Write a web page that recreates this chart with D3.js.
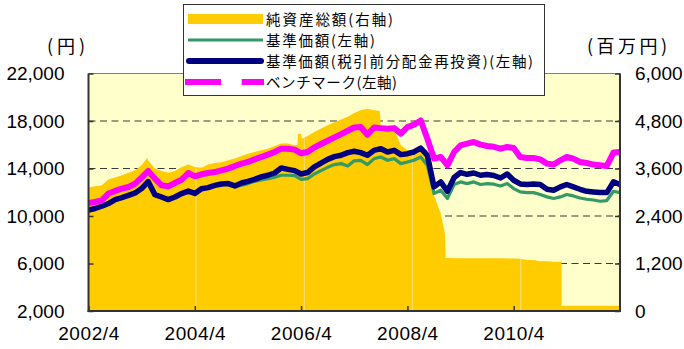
<!DOCTYPE html>
<html>
<head>
<meta charset="utf-8">
<script src="https://cdn.jsdelivr.net/npm/d3@7"></script>
<style>
  html, body { margin: 0; padding: 0; background: #fff; }
  svg { display: block; }
</style>
</head>
<body>
<svg id="chart" width="684" height="349"></svg>
<script>
// Sampling dates for the price series (every 1.5 months)
const dates = [
  "2002-04-01","2002-05-16","2002-07-01","2002-08-16","2002-10-01","2002-11-16","2003-01-01","2003-02-16",
  "2003-04-01","2003-05-16","2003-07-01","2003-08-16","2003-10-01","2003-11-16","2004-01-01","2004-02-16",
  "2004-04-01","2004-05-16","2004-07-01","2004-08-16","2004-10-01","2004-11-16","2005-01-01","2005-02-16",
  "2005-04-01","2005-05-16","2005-07-01","2005-08-16","2005-10-01","2005-11-16","2006-01-01","2006-02-16",
  "2006-04-01","2006-05-16","2006-07-01","2006-08-16","2006-10-01","2006-11-16","2007-01-01","2007-02-16",
  "2007-04-01","2007-05-16","2007-07-01","2007-08-16","2007-10-01","2007-11-16","2008-01-01","2008-02-16",
  "2008-04-01","2008-05-16","2008-07-01","2008-08-16","2008-10-01","2008-11-16","2009-01-01","2009-02-16",
  "2009-04-01","2009-05-16","2009-07-01","2009-08-16","2009-10-01","2009-11-16","2010-01-01","2010-02-16",
  "2010-04-01","2010-05-16","2010-07-01","2010-08-16","2010-10-01","2010-11-16","2011-01-01","2011-02-16",
  "2011-04-01","2011-05-16","2011-07-01","2011-08-16","2011-10-01","2011-11-16","2012-01-01","2012-02-16",
  "2012-04-01"
];

// 基準価額 (円)
const navBasic = [
  10500,10630,10820,11050,11380,11550,11740,11940,12310,12900,11800,11600,11380,11600,11890,12100,
  11900,12300,12390,12580,12700,12730,12500,12590,12730,12920,13030,13150,13260,13430,13430,13400,
  13090,13150,13540,13820,14100,14330,14410,14210,14650,14690,14330,14830,14970,14690,14830,14410,
  14550,14690,14970,14270,11890,12170,11470,12650,12870,12730,12870,12650,12730,12680,12530,12730,
  12310,12030,11970,11970,11810,11610,11470,11610,11810,11690,11520,11410,11350,11240,11300,12080,
  11970
];

// 基準価額（税引前分配金再投資）(円)
const navReinvested = [
  10500,10630,10820,11050,11380,11550,11740,11940,12310,12900,11800,11600,11380,11600,11890,12100,
  11900,12300,12390,12580,12700,12730,12530,12780,12920,13090,13290,13430,13620,14040,13930,13820,
  13540,13660,14130,14460,14770,15000,15110,15340,15450,15340,15110,15530,15670,15390,15530,15170,
  15250,15390,15720,15110,12450,12870,12080,13240,13660,13510,13620,13430,13490,13410,13200,13540,
  13010,12700,12650,12700,12650,12250,12170,12450,12650,12450,12250,12080,12030,11970,11970,12870,
  12650
];

// ベンチマーク (円)
const benchmark = [
  11100,11180,11320,11890,12110,12310,12440,12730,13230,13790,13150,12580,12500,12780,13060,13620,
  13340,13510,13620,13700,13850,13990,14210,14410,14550,14770,14970,15170,15390,15670,15670,15590,
  15280,15390,15780,16060,16340,16620,16900,17180,17450,17490,16850,17460,17400,17350,17400,16930,
  17490,17690,18050,16510,14830,14970,14270,15390,15950,16090,16230,16010,15890,15830,15670,15810,
  15720,14970,14880,14880,14770,14410,14330,14690,14970,14830,14550,14460,14330,14270,14210,15340,
  15390
];

// 純資産総額 (百万円)
const assetDates = [
  "2002-04-01","2002-05-16","2002-07-01","2002-08-16","2002-10-01","2002-11-16","2003-01-01","2003-02-16",
  "2003-04-01","2003-05-10","2003-05-16","2003-07-01","2003-08-16","2003-10-01","2003-11-16","2004-01-01",
  "2004-02-16","2004-04-01","2004-05-16","2004-07-01","2004-08-16","2004-10-01","2004-11-16","2005-01-01",
  "2005-02-16","2005-04-01","2005-05-16","2005-07-01","2005-08-16","2005-10-01","2005-11-16","2006-01-01",
  "2006-02-16","2006-03-08","2006-03-10","2006-04-01","2006-04-08","2006-05-16","2006-07-01","2006-08-16",
  "2006-10-01","2006-11-16","2007-01-01","2007-02-16","2007-04-01","2007-05-16","2007-07-01","2007-08-16",
  "2007-09-25","2007-10-01","2007-11-16","2008-01-01","2008-02-16","2008-04-01","2008-05-16","2008-07-01",
  "2008-08-16","2008-10-01","2008-11-16","2008-12-15","2008-12-20","2009-01-01","2009-04-01","2009-07-01",
  "2009-10-01","2010-01-01","2010-04-01","2010-05-16","2010-07-01","2010-08-16","2010-10-01","2010-11-16",
  "2011-01-01","2011-02-24","2011-02-25","2012-04-01"
];
const assetValues = [
  3120,3150,3180,3320,3370,3430,3490,3555,
  3680,3870,3800,3600,3540,3490,3540,3640,
  3700,3640,3620,3700,3740,3760,3810,3850,
  3915,3970,4020,4060,4100,4170,4230,4230,
  4185,4200,4480,4470,4360,4420,4520,4610,
  4690,4770,4840,4910,5000,5070,5110,5070,
  5050,4600,4600,4580,4185,4060,4060,4020,
  3850,2920,2460,1950,1340,1340,1330,1330,
  1335,1330,1325,1320,1290,1290,1260,1260,
  1245,1245,130,130
];

const leftTicks = [2000, 6000, 10000, 14000, 18000, 22000];
const rightTicks = [0, 1200, 2400, 3600, 4800, 6000];
const xTickLabels = ["2002/4", "2004/4", "2006/4", "2008/4", "2010/4"];
const gridLevels = [6000, 10000, 14000, 18000];
// joins between the drawn segments of the asset area
const seamDates = ["2004-04-09", "2006-04-23", "2008-05-05", "2010-05-20"];

const legendLabels = [
  "純資産総額(右軸)",
  "基準価額(左軸)",
  "基準価額(税引前分配金再投資)(左軸)",
  "ベンチマーク(左軸)"
];
const legendWidths = [127, 109, 267, 131];

const colors = {
  assets: "#FFCC00",
  basic: "#339966",
  reinvested: "#000080",
  bench: "#FF00FF",
  plotBg: "#FFFFCC",
  axis: "#333333"
};

const parse = d3.timeParse("%Y-%m-%d");
const parseTick = d3.timeParse("%Y/%m");

const svg = d3.select("#chart");
const L = 88.5, R = 620, T = 73.5, B = 311;

const x = d3.scaleTime()
  .domain([parse("2002-04-01"), parse("2012-04-01")])
  .range([L, R]);
const yL = d3.scaleLinear().domain([2000, 22000]).range([B, T]);
const yR = d3.scaleLinear().domain([0, 6000]).range([B, T]);

const numFont = "'Liberation Sans', Arial, sans-serif";
const jpFont = "'Noto Sans CJK JP', 'Noto Sans', sans-serif";

// plot background
svg.append("rect")
  .attr("x", L).attr("y", T).attr("width", R - L).attr("height", B - T)
  .attr("fill", colors.plotBg);

// dashed gridlines
svg.append("g").selectAll("line").data(gridLevels).join("line")
  .attr("x1", L).attr("x2", R)
  .attr("y1", d => yL(d)).attr("y2", d => yL(d))
  .attr("stroke", "#3a3a3a").attr("stroke-width", 1.2)
  .attr("stroke-dasharray", "7,4.5");

// asset area
const assetData = assetDates.map((d, i) => ({ date: parse(d), v: assetValues[i] }));
const area = d3.area()
  .x(d => x(d.date))
  .y0(yR(0))
  .y1(d => yR(d.v));
const areaPath = area(assetData);

svg.append("clipPath").attr("id", "areaClip")
  .append("path").attr("d", areaPath);

svg.append("path")
  .attr("d", areaPath)
  .attr("fill", colors.assets);

svg.append("g").attr("clip-path", "url(#areaClip)")
  .selectAll("line").data(seamDates).join("line")
  .attr("x1", d => x(parse(d))).attr("x2", d => x(parse(d)))
  .attr("y1", T).attr("y2", B)
  .attr("stroke", "#FFE27A").attr("stroke-width", 1);

// price lines
const series = [
  { values: navBasic, color: colors.basic, width: 3.2 },
  { values: navReinvested, color: colors.reinvested, width: 5.5 },
  { values: benchmark, color: colors.bench, width: 6 }
];
const line = d3.line()
  .x(d => x(d.date))
  .y(d => yL(d.v));
series.forEach(s => {
  const data = dates.map((d, i) => ({ date: parse(d), v: s.values[i] }));
  svg.append("path")
    .attr("d", line(data))
    .attr("fill", "none")
    .attr("stroke", s.color)
    .attr("stroke-width", s.width)
    .attr("stroke-linejoin", "round")
    .attr("stroke-linecap", "butt");
});

// frame
svg.append("line").attr("x1", L).attr("x2", R).attr("y1", T).attr("y2", T)
  .attr("stroke", "#808080").attr("stroke-width", 1);
svg.append("line").attr("x1", L).attr("x2", L).attr("y1", T).attr("y2", B + 1)
  .attr("stroke", colors.axis).attr("stroke-width", 2);
svg.append("line").attr("x1", R).attr("x2", R).attr("y1", T).attr("y2", B + 1)
  .attr("stroke", colors.axis).attr("stroke-width", 2);
svg.append("line").attr("x1", L - 1).attr("x2", R + 1).attr("y1", B).attr("y2", B)
  .attr("stroke", colors.axis).attr("stroke-width", 2);

// left axis
const leftAxis = d3.axisLeft(yL).tickValues(leftTicks)
  .tickSizeInner(-5).tickSizeOuter(0).tickPadding(24)
  .tickFormat(d3.format(","));
const gl = svg.append("g").attr("transform", `translate(${L},0)`).call(leftAxis);
gl.select(".domain").remove();
gl.selectAll(".tick line").attr("stroke", colors.axis).attr("stroke-width", 1.5);
gl.selectAll(".tick text").attr("font-family", numFont).attr("font-size", 19).attr("fill", "#000");

// right axis
const rightAxis = d3.axisRight(yR).tickValues(rightTicks)
  .tickSizeInner(-5).tickSizeOuter(0).tickPadding(15)
  .tickFormat(d3.format(","));
const gr = svg.append("g").attr("transform", `translate(${R},0)`).call(rightAxis);
gr.select(".domain").remove();
gr.selectAll(".tick line").attr("stroke", colors.axis).attr("stroke-width", 1.5);
gr.selectAll(".tick text").attr("font-family", numFont).attr("font-size", 19).attr("fill", "#000");

// bottom axis
const xTicks = xTickLabels.map(s => parseTick(s));
const bottomAxis = d3.axisBottom(x).tickValues(xTicks)
  .tickSizeInner(-5).tickSizeOuter(0).tickPadding(16)
  .tickFormat((d, i) => xTickLabels[i]);
const gb = svg.append("g").attr("transform", `translate(0,${B})`).call(bottomAxis);
gb.select(".domain").remove();
gb.selectAll(".tick line").attr("stroke", colors.axis).attr("stroke-width", 1.5);
gb.selectAll(".tick text").attr("font-family", numFont).attr("font-size", 19)
  .attr("fill", "#000").attr("letter-spacing", 0.6);

// unit labels
svg.append("text").attr("x", 66).attr("y", 53).attr("text-anchor", "middle")
  .attr("font-family", jpFont).attr("font-size", 18)
  .attr("textLength", 38).attr("lengthAdjust", "spacing")
  .text("(円)");
svg.append("text").attr("x", 627).attr("y", 53).attr("text-anchor", "middle")
  .attr("font-family", jpFont).attr("font-size", 18)
  .attr("textLength", 80).attr("lengthAdjust", "spacing")
  .text("(百万円)");

// legend
const lg = svg.append("g");
lg.append("rect").attr("x", 183.5).attr("y", 4.5).attr("width", 361).attr("height", 91)
  .attr("fill", "#fff").attr("stroke", "#333").attr("stroke-width", 1);
const rowY = [19, 40, 61, 82];
lg.append("rect").attr("x", 188).attr("y", rowY[0] - 5).attr("width", 75).attr("height", 10)
  .attr("fill", colors.assets);
lg.append("line").attr("x1", 188).attr("x2", 263).attr("y1", rowY[1]).attr("y2", rowY[1])
  .attr("stroke", colors.basic).attr("stroke-width", 3);
lg.append("line").attr("x1", 189).attr("x2", 261).attr("y1", rowY[2]).attr("y2", rowY[2])
  .attr("stroke", colors.reinvested).attr("stroke-width", 6).attr("stroke-linecap", "round");
lg.append("line").attr("x1", 185).attr("x2", 264).attr("y1", rowY[3]).attr("y2", rowY[3])
  .attr("stroke", colors.bench).attr("stroke-width", 6).attr("stroke-dasharray", "36,20.7");
lg.selectAll("text.leg").data(legendLabels).join("text").attr("class", "leg")
  .attr("x", 266).attr("y", (d, i) => rowY[i] + 5.5)
  .attr("font-family", jpFont).attr("font-size", 14.5).attr("fill", "#000")
  .attr("textLength", (d, i) => legendWidths[i]).attr("lengthAdjust", "spacing")
  .text(d => d);
</script>
</body>
</html>
